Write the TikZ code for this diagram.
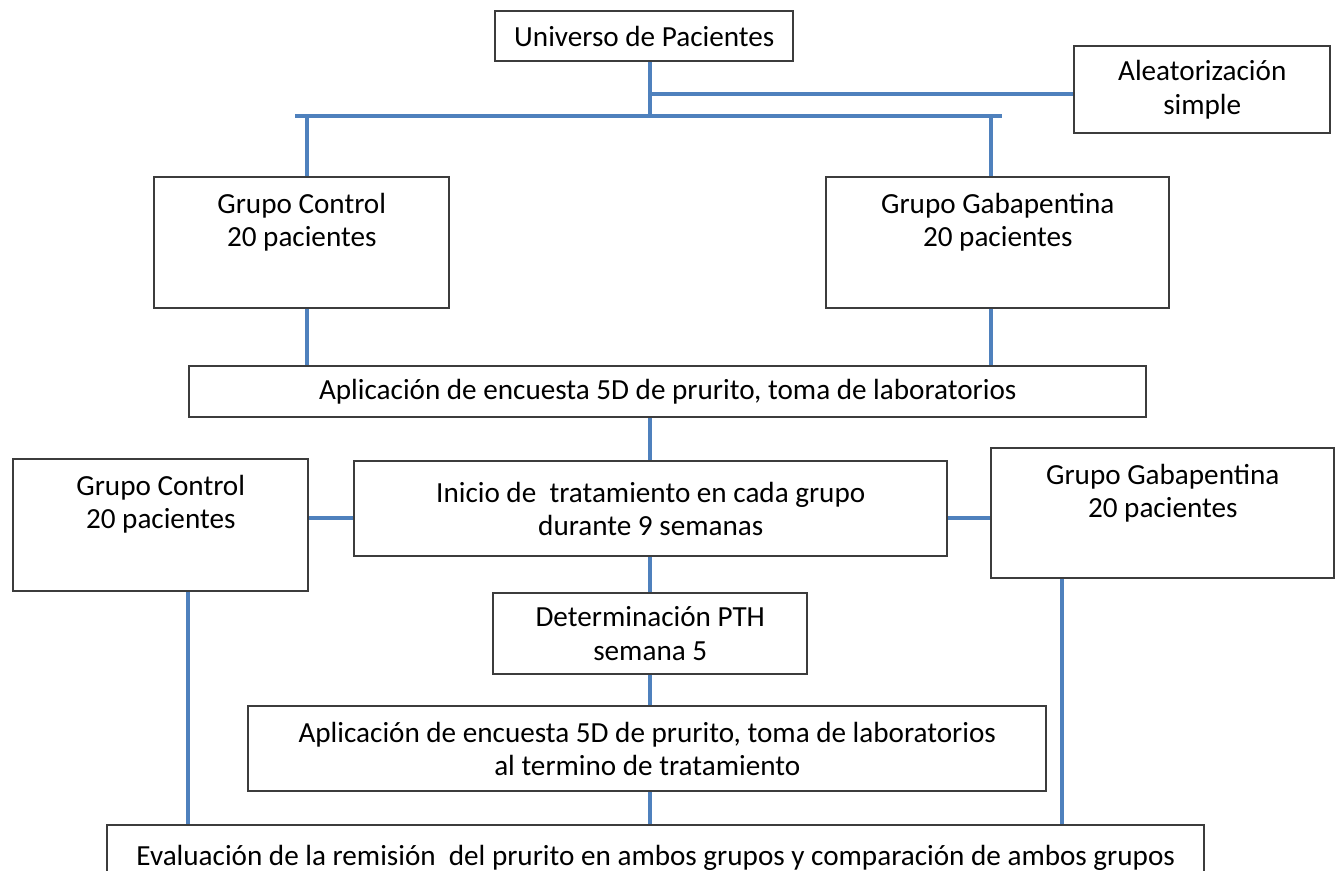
\documentclass[tikz,border=0pt]{standalone}
\usepackage{fontspec}
\setmainfont{Carlito}
\usetikzlibrary{positioning}

\definecolor{linkblue}{RGB}{79,129,189}
\definecolor{boxgray}{RGB}{60,60,60}

\begin{document}
\begin{tikzpicture}[x=0.02cm, y=-0.02cm, node distance=1cm,
    box/.style={draw=boxgray, line width=1.4pt, fill=white, inner sep=0pt,
                align=center, anchor=north west},
    txt/.style={align=center, inner sep=0pt},
    link/.style={draw=linkblue, line width=2.3pt}]

  \useasboundingbox (0,0) rectangle (1337,871);
  \fontsize{16.6}{19}\selectfont

  % Boxes, placed by their top left corner
  \node[box, minimum width=298*0.02cm, minimum height=50*0.02cm] (uni) at (494,10) {Universo de Pacientes};
  \node[box, minimum width=256*0.02cm, minimum height=87*0.02cm] (alea) at (1073,45) {Aleatorización\\simple};

  \node[box, minimum width=295*0.02cm, minimum height=131*0.02cm] (gc1) at (153,176) {};
  \node[box, minimum width=343*0.02cm, minimum height=131*0.02cm] (gb1) at (825,176) {};
  \node[txt, below=0.33cm of gc1.north] {Grupo Control\\20 pacientes};
  \node[txt, below=0.33cm of gb1.north] {Grupo Gabapentina\\20 pacientes};

  \node[box, minimum width=957*0.02cm, minimum height=51*0.02cm] (apl1) at (188,365) {Aplicación de encuesta 5D de prurito, toma de laboratorios};

  \node[box, minimum width=295*0.02cm, minimum height=132*0.02cm] (gc2) at (12,458) {};
  \node[box, minimum width=343*0.02cm, minimum height=130*0.02cm] (gb2) at (990,447) {};
  \node[txt, below=0.33cm of gc2.north] {Grupo Control\\20 pacientes};
  \node[txt, below=0.33cm of gb2.north] {Grupo Gabapentina\\20 pacientes};

  \node[box, minimum width=593*0.02cm, minimum height=95*0.02cm] (ini) at (353,460) {Inicio de \ tratamiento en cada grupo\\durante 9 semanas};
  \node[box, minimum width=314*0.02cm, minimum height=81*0.02cm] (det) at (492,592) {Determinación PTH\\semana 5};
  \node[box, minimum width=798*0.02cm, minimum height=85*0.02cm] (apl2) at (247,705) {Aplicación de encuesta 5D de prurito, toma de laboratorios\\al termino de tratamiento};
  \node[box, minimum width=1097*0.02cm, minimum height=66*0.02cm] (eval) at (106,824) {Evaluación de la remisión \ del prurito en ambos grupos y comparación de ambos grupos};

  % Junctions of the randomisation lines
  \coordinate (j1) at (650,94);
  \coordinate (j2) at (650,116);
  \coordinate (jl) at (295,116);
  \coordinate (jr) at (1002,116);

  % Connectors
  \path[link] (uni.south -| j1) -- (j2);
  \path[link] (j1) -- (alea.west |- j1);
  \path[link] (jl) -- (jr);
  \path[link] (307,116) -- (gc1.north -| 307,0);
  \path[link] (991,116) -- (gb1.north -| 991,0);
  \path[link] (gc1.south -| 307,0) -- (apl1.north -| 307,0);
  \path[link] (gb1.south -| 991,0) -- (apl1.north -| 991,0);
  \path[link] (apl1.south -| j1) -- (ini.north -| j1);
  \path[link] (gc2.east |- 0,518) -- (ini.west |- 0,518);
  \path[link] (ini.east |- 0,518) -- (gb2.west |- 0,518);
  \path[link] (ini.south -| j1) -- (det.north -| j1);
  \path[link] (det.south -| j1) -- (apl2.north -| j1);
  \path[link] (apl2.south -| j1) -- (eval.north -| j1);
  \path[link] (gc2.south -| 188,0) -- (eval.north -| 188,0);
  \path[link] (gb2.south -| 1062,0) -- (eval.north -| 1062,0);

\end{tikzpicture}
\end{document}
